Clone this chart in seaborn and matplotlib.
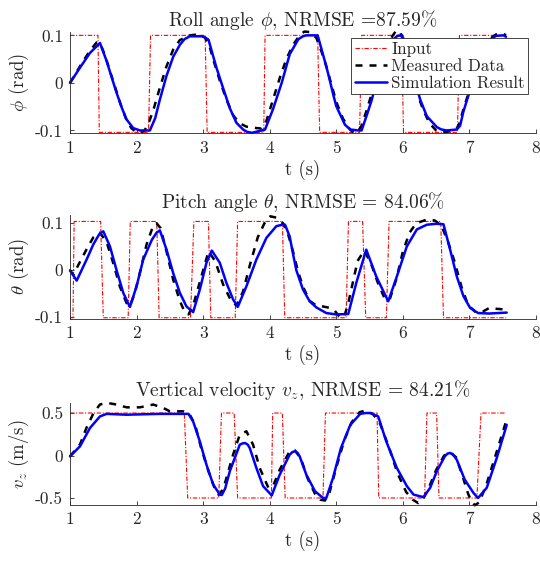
import matplotlib
matplotlib.use("Agg")
import matplotlib.pyplot as plt
import seaborn as sns

# ---------------- data ----------------
# Roll angle panel
roll_in_t = [1.0, 1.42, 1.44, 2.18, 2.21, 3.03, 3.06, 3.91, 3.93, 4.72, 4.75,
             5.35, 5.38, 5.98, 6.01, 6.82, 6.85, 7.55]
roll_in_v = [0.1, 0.1, -0.104, -0.104, 0.1, 0.1, -0.104, -0.104, 0.1,
             0.1, -0.104, -0.104, 0.1, 0.1, -0.104, -0.104, 0.1, 0.1]
roll_meas_t = [1.0, 1.15, 1.3, 1.4, 1.45, 1.52, 1.6, 1.68, 1.76, 1.84, 1.92, 2.0,
               2.06, 2.12, 2.18, 2.25, 2.35, 2.45, 2.55, 2.65, 2.8, 2.93, 3.03,
               3.1, 3.15, 3.25, 3.35, 3.45, 3.55, 3.65, 3.8, 3.88, 3.95, 4.05,
               4.15, 4.25, 4.35, 4.45, 4.52, 4.6, 4.7, 4.78, 4.85, 4.92, 5.0, 5.1,
               5.2, 5.26, 5.32, 5.38, 5.45, 5.55, 5.65, 5.75, 5.85, 5.9, 5.96,
               6.04, 6.12, 6.2, 6.3, 6.4, 6.5, 6.6, 6.7, 6.8, 6.85, 6.9, 7.0, 7.1,
               7.2, 7.3, 7.4, 7.5, 7.55]
roll_meas_v = [0.0, 0.035, 0.068, 0.085, 0.084, 0.06, 0.025, -0.01, -0.045,
               -0.075, -0.095, -0.104, -0.105, -0.1, -0.085, -0.058, -0.01, 0.035,
               0.07, 0.09, 0.1, 0.102, 0.095, 0.075, 0.05, 0.005, -0.035, -0.068,
               -0.085, -0.092, -0.095, -0.096, -0.08, -0.035, 0.01, 0.05, 0.08,
               0.1, 0.108, 0.107, 0.095, 0.065, 0.035, 0.0, -0.04, -0.075, -0.097,
               -0.105, -0.103, -0.09, -0.06, -0.015, 0.035, 0.075, 0.1, 0.11,
               0.107, 0.075, 0.03, -0.015, -0.055, -0.085, -0.1, -0.104, -0.102,
               -0.098, -0.085, -0.06, -0.015, 0.035, 0.07, 0.092, 0.102, 0.104, 0.1]
roll_sim_t = [1.0, 1.15, 1.3, 1.45, 1.55, 1.63, 1.7, 1.78, 1.85, 1.95, 2.05, 2.2,
              2.28, 2.35, 2.45, 2.55, 2.65, 2.72, 2.8, 3.0, 3.08, 3.2, 3.3, 3.4,
              3.5, 3.6, 3.66, 3.73, 3.88, 3.93, 4.05, 4.18, 4.3, 4.43, 4.5, 4.55,
              4.72, 4.8, 4.855, 4.905, 4.955, 5.0, 5.06, 5.13, 5.21, 5.33, 5.38,
              5.46, 5.53, 5.62, 5.72, 5.82, 5.92, 5.99, 6.08, 6.17, 6.26, 6.36,
              6.51, 6.58, 6.66, 6.81, 6.86, 6.91, 7.0, 7.1, 7.2, 7.3, 7.4, 7.51,
              7.55]
roll_sim_v = [0.0, 0.032, 0.063, 0.084, 0.046, 0.01, -0.021, -0.053, -0.077,
              -0.095, -0.1, -0.1, -0.074, -0.035, 0.015, 0.055, 0.08, 0.092, 0.098,
              0.098, 0.091, 0.032, -0.011, -0.053, -0.084, -0.098, -0.103, -0.105,
              -0.1, -0.098, -0.055, 0.0, 0.06, 0.092, 0.098, 0.1, 0.1, 0.06, 0.032,
              0.004, -0.025, -0.049, -0.067, -0.088, -0.098, -0.1, -0.1, -0.067,
              -0.037, 0.01, 0.055, 0.087, 0.099, 0.1, 0.065, 0.01, -0.035, -0.07,
              -0.093, -0.098, -0.1, -0.098, -0.09, -0.06, -0.02, 0.025, 0.065,
              0.09, 0.099, 0.1, 0.097]

# Pitch angle panel
pitch_in_t = [1.0, 1.045, 1.062, 1.46, 1.50, 1.874, 1.905, 2.303, 2.339, 2.81,
              2.861, 3.079, 3.115, 3.482, 3.518, 4.19, 4.226, 5.147, 5.183, 5.395,
              5.442, 5.752, 5.793, 6.569, 6.61, 7.551]
pitch_in_v = [-0.101, -0.101, 0.104, 0.104, -0.101, -0.101, 0.104, 0.104, -0.101,
              -0.101, 0.104, 0.104, -0.101, -0.101, 0.104, 0.104, -0.101, -0.101,
              0.104, 0.104, -0.101, -0.101, 0.104, 0.104, -0.101, -0.101]
pitch_meas_t = [1.0, 1.05, 1.12, 1.25, 1.35, 1.45, 1.55, 1.65, 1.75, 1.85, 1.9,
                1.97, 2.05, 2.15, 2.25, 2.3, 2.36, 2.45, 2.55, 2.65, 2.72, 2.78,
                2.85, 2.95, 3.08, 3.18, 3.3, 3.42, 3.5, 3.6, 3.7, 3.82, 3.92, 4.01,
                4.1, 4.2, 4.28, 4.35, 4.42, 4.5, 4.6, 4.7, 4.8, 4.9, 4.97, 5.06,
                5.12, 5.18, 5.25, 5.32, 5.42, 5.52, 5.62, 5.72, 5.8, 5.9, 6.0, 6.1,
                6.2, 6.36, 6.48, 6.58, 6.68, 6.78, 6.88, 6.98, 7.1, 7.2, 7.3, 7.41,
                7.5, 7.55]
pitch_meas_v = [0.0, -0.01, 0.01, 0.045, 0.07, 0.08, 0.06, 0.015, -0.035, -0.07,
                -0.076, -0.05, -0.005, 0.055, 0.095, 0.1, 0.09, 0.04, -0.02,
                -0.065, -0.088, -0.094, -0.075, -0.025, 0.04, 0.02, -0.03, -0.065,
                -0.075, -0.045, 0.01, 0.07, 0.1, 0.115, 0.112, 0.1, 0.075, 0.04,
                0.0, -0.035, -0.065, -0.075, -0.077, -0.08, -0.085, -0.101, -0.098,
                -0.07, -0.025, 0.02, 0.042, 0.015, -0.025, -0.058, -0.063, -0.02,
                0.04, 0.08, 0.1, 0.108, 0.106, 0.095, 0.06, 0.017, -0.035, -0.074,
                -0.09, -0.088, -0.08, -0.082, -0.083, -0.083]
pitch_sim_t = [1.0, 1.1, 1.25, 1.35, 1.44, 1.5, 1.6, 1.7, 1.8, 1.9, 2.0, 2.1,
               2.23, 2.3, 2.35, 2.45, 2.55, 2.65, 2.75, 2.85, 2.95, 3.05, 3.13,
               3.25, 3.35, 3.45, 3.52, 3.65, 3.8, 3.95, 4.1, 4.19, 4.23, 4.3, 4.35,
               4.4, 4.5, 4.6, 4.7, 4.85, 5.0, 5.18, 5.3, 5.45, 5.6, 5.78, 5.91,
               6.06, 6.21, 6.36, 6.5, 6.61, 6.71, 6.81, 6.91, 7.01, 7.13, 7.3, 7.56]
pitch_sim_v = [0.0, -0.022, 0.023, 0.055, 0.077, 0.083, 0.051, 0.0, -0.048,
               -0.078, -0.034, 0.023, 0.065, 0.08, 0.085, 0.044, -0.006, -0.048,
               -0.077, -0.089, -0.041, 0.016, 0.042, 0.016, -0.027, -0.062, -0.078,
               -0.034, 0.023, 0.069, 0.094, 0.097, 0.097, 0.072, 0.035, 0.0,
               -0.041, -0.066, -0.079, -0.091, -0.094, -0.093, -0.027, 0.044,
               -0.013, -0.066, -0.013, 0.051, 0.087, 0.097, 0.099, 0.098, 0.044,
               -0.013, -0.055, -0.08, -0.091, -0.092, -0.09]

# Vertical velocity panel
vz_in_t = [1.0, 2.717, 2.768, 3.234, 3.275, 3.466, 3.518, 4.025, 4.045, 4.19,
           4.232, 4.80, 4.837, 5.612, 5.638, 6.326, 6.362, 6.507, 6.543, 7.112,
           7.174, 7.551]
vz_in_v = [0.5, 0.5, -0.5, -0.5, 0.5, 0.5, -0.5, -0.5, 0.5, 0.5, -0.5, -0.5, 0.5,
           0.5, -0.5, -0.5, 0.5, 0.5, -0.5, -0.5, 0.5, 0.5]
vz_meas_t = [1.0, 1.15, 1.25, 1.36, 1.45, 1.55, 1.7, 1.85, 2.05, 2.25, 2.4, 2.5,
             2.7, 2.8, 2.88, 2.97, 3.08, 3.18, 3.23, 3.3, 3.45, 3.55, 3.65, 3.75,
             3.85, 3.98, 4.05, 4.15, 4.3, 4.38, 4.47, 4.57, 4.68, 4.76, 4.83, 4.9,
             5.0, 5.12, 5.23, 5.35, 5.43, 5.55, 5.66, 5.79, 5.92, 6.05, 6.15,
             6.23, 6.3, 6.4, 6.5, 6.62, 6.7, 6.8, 6.9, 6.98, 7.03, 7.08, 7.15,
             7.26, 7.4, 7.55]
vz_meas_v = [-0.01, 0.13, 0.33, 0.51, 0.6, 0.62, 0.6, 0.567, 0.567, 0.6, 0.56,
             0.52, 0.52, 0.48, 0.36, 0.088, -0.186, -0.40, -0.46, -0.40, 0.01,
             0.245, 0.285, 0.127, -0.147, -0.38, -0.36, -0.167, 0.05, 0.06, -0.04,
             -0.27, -0.45, -0.52, -0.53, -0.43, -0.14, 0.18, 0.39, 0.51, 0.527,
             0.49, 0.37, 0.1, -0.21, -0.43, -0.52, -0.56, -0.52, -0.36, -0.17, 0.0,
             0.04, -0.02, -0.25, -0.45, -0.54, -0.586, -0.55, -0.33, 0.02, 0.4]
vz_sim_t = [1.0, 1.15, 1.3, 1.45, 1.55, 1.85, 2.35, 2.78, 2.85, 2.95, 3.05, 3.15,
            3.25, 3.28, 3.33, 3.4, 3.55, 3.59, 3.63, 3.67, 3.7, 3.8, 3.9, 4.03,
            4.15, 4.3, 4.34, 4.38, 4.42, 4.45, 4.55, 4.68, 4.8, 4.85, 4.95, 5.07,
            5.21, 5.36, 5.44, 5.51, 5.63, 5.75, 5.91, 6.06, 6.16, 6.31, 6.41,
            6.51, 6.63, 6.67, 6.71, 6.75, 6.81, 6.93, 7.06, 7.13, 7.26, 7.41, 7.56]
vz_sim_v = [-0.01, 0.108, 0.324, 0.46, 0.49, 0.48, 0.49, 0.49, 0.40, 0.167,
            -0.108, -0.34, -0.46, -0.465, -0.39, -0.186, 0.127, 0.142, 0.147,
            0.128, 0.088, -0.147, -0.36, -0.47, -0.226, 0.01, 0.04, 0.05, 0.03,
            -0.01, -0.226, -0.42, -0.5, -0.5, -0.265, 0.088, 0.36, 0.49, 0.5, 0.5,
            0.46, 0.167, -0.147, -0.36, -0.46, -0.49, -0.38, -0.186, -0.01, 0.022,
            0.03, 0.015, -0.05, -0.285, -0.44, -0.5, -0.38, -0.03, 0.36]

titles = [r"Roll angle $\phi$, NRMSE =87.59%",
          r"Pitch angle $\theta$, NRMSE = 84.06%",
          r"Vertical velocity $v_z$, NRMSE = 84.21%"]
ylabels = [r"$\phi$ (rad)", r"$\theta$ (rad)", r"$v_z$ (m/s)"]
xlabel = "t (s)"
xticks = [1, 2, 3, 4, 5, 6, 7, 8]
yticks = [[-0.1, 0, 0.1], [-0.1, 0, 0.1], [-0.5, 0, 0.5]]
yticklabels = [["-0.1", "0", "0.1"], ["-0.1", "0", "0.1"], ["-0.5", "0", "0.5"]]
legend_labels = ["Input", "Measured Data", "Simulation Result"]

# ---------------- style ----------------
sns.set_theme(style="ticks")
plt.rcParams.update({
    "font.family": "serif",
    "font.serif": ["cmr10", "DejaVu Serif"],
    "mathtext.fontset": "cm",
    "axes.unicode_minus": False,
    "axes.formatter.use_mathtext": True,
    "xtick.direction": "in",
    "ytick.direction": "in",
    "axes.edgecolor": "#262626",
    "axes.linewidth": 0.6,
    "xtick.color": "#262626",
    "ytick.color": "#262626",
    "xtick.major.width": 0.6,
    "ytick.major.width": 0.6,
    "xtick.major.size": 3,
    "ytick.major.size": 3,
    "xtick.major.pad": 5,
    "ytick.major.pad": 5,
    "lines.solid_joinstyle": "round",
})

W, H = 540, 562
fig = plt.figure(figsize=(W / 100, H / 100), dpi=100)

# axes pixel boxes (left, top, right, bottom)
boxes = [(70, 32.5, 536, 133.3), (70, 215, 536, 318.5), (70, 403, 536, 504.7)]
ylims = [(-0.106, 0.106), (-0.1026, 0.1177), (-0.579, 0.618)]

data = [
    (roll_in_t, roll_in_v, roll_meas_t, roll_meas_v, roll_sim_t, roll_sim_v),
    (pitch_in_t, pitch_in_v, pitch_meas_t, pitch_meas_v, pitch_sim_t, pitch_sim_v),
    (vz_in_t, vz_in_v, vz_meas_t, vz_meas_v, vz_sim_t, vz_sim_v),
]

for i, (l, t, r, b) in enumerate(boxes):
    ax = fig.add_axes([l / W, 1 - b / H, (r - l) / W, (b - t) / H])
    it, iv, mt, mv, st, sv = data[i]
    sns.lineplot(x=it, y=iv, ax=ax, color="#FF0000", lw=0.8,
                 linestyle=(0, (4, 1.5, 1, 1.5)), estimator=None, sort=False,
                 label=legend_labels[0], clip_on=False)
    sns.lineplot(x=mt, y=mv, ax=ax, color="black", lw=1.8,
                 linestyle=(0, (2.8, 2.8)), estimator=None, sort=False,
                 label=legend_labels[1], clip_on=False, dash_joinstyle="round")
    sns.lineplot(x=st, y=sv, ax=ax, color="#0000FF", lw=1.8,
                 estimator=None, sort=False, label=legend_labels[2], clip_on=False)
    ax.set_xlim(1, 8)
    ax.set_ylim(*ylims[i])
    ax.set_xticks(xticks)
    ax.set_xticklabels([str(v) for v in xticks], fontsize=12.5)
    ax.set_yticks(yticks[i])
    ax.set_yticklabels(yticklabels[i], fontsize=12.5)
    ax.set_title(titles[i], fontsize=14, pad=5)
    ax.set_xlabel(xlabel, fontsize=13.5, labelpad=3)
    ax.set_ylabel(ylabels[i], fontsize=13.5, labelpad=3)
    ax.spines["top"].set_visible(False)
    ax.spines["right"].set_visible(False)
    if i == 0:
        leg = ax.legend(loc="upper right", bbox_to_anchor=(528.3 / W, 1 - 38 / H),
                        bbox_transform=fig.transFigure, borderaxespad=0,
                        fontsize=12.2, frameon=True, fancybox=False, framealpha=1,
                        edgecolor="#262626", handlelength=1.9, handletextpad=0.25,
                        borderpad=0.2, labelspacing=0.1)
        leg.get_frame().set_linewidth(0.6)
        leg.set_zorder(10)
    else:
        ax.get_legend().remove()

fig.savefig("out.png", dpi=100)
